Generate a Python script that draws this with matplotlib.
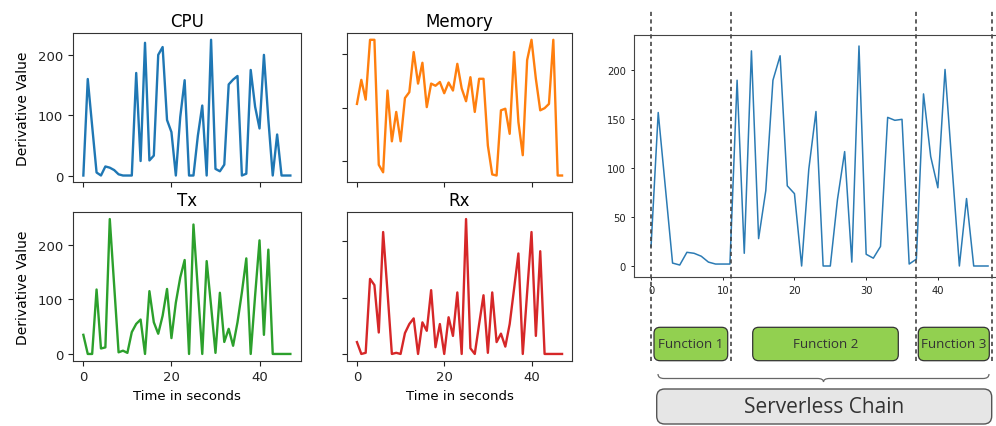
import matplotlib.pyplot as plt
from matplotlib.patches import FancyBboxPatch, PathPatch
from matplotlib.path import Path

# time axis (seconds)
t = list(range(48))

# derivative values per metric
cpu = [0, 160, 82, 5, 0, 15, 13, 9, 2, 0, 0, 0, 170, 24, 220, 25, 33, 200, 213, 92,
       72, 0, 97, 158, 0, 0, 66, 116, 0, 225, 11, 7, 18, 151, 159, 165, 0, 3, 175, 114,
       78, 200, 93, 0, 68, 0, 0, 0]
memory = [107, 152, 115, 227, 227, -7, -21, 132, 37, 92, 37, 118, 129, 204, 145, 184,
          101, 145, 141, 148, 127, 147, 132, 182, 136, 112, 157, 92, 154, 154, 29, -25,
          -27, 95, 98, 51, 204, 73, 11, 189, 227, 154, 95, 99, 107, 227, -27, -27]
tx = [35, 0, 0, 118, 10, 12, 247, 125, 3, 6, 2, 40, 55, 63, 0, 115, 58, 37, 70, 119,
      29, 94, 140, 172, 0, 237, 118, 0, 170, 88, 2, 112, 22, 46, 15, 58, 113, 175, 0, 107,
      208, 35, 191, 0, 0, 0, 0, 0]
rx = [21, 0, 2, 133, 122, 38, 216, 110, 0, 2, 0, 37, 53, 63, 0, 56, 41, 113, 12, 53,
      0, 65, 32, 109, 0, 239, 10, 0, 53, 104, 2, 109, 21, 36, 13, 53, 115, 178, 0, 109,
      216, 32, 182, 0, 0, 0, 0, 0]

# chain trace shown on the right
chain = [20, 157, 80, 3, 1, 14, 13, 10, 4, 2, 2, 2, 190, 13, 220, 28, 77, 190, 215, 82,
         74, 0, 99, 158, 0, 0, 68, 117, 4, 225, 12, 8, 20, 152, 149, 150, 2, 7, 176, 112,
         80, 201, 100, 0, 69, 0, 0, 0]
function_bounds = [0, 11.1, 37, 47.5]
function_names = ["Function 1", "Function 2", "Function 3"]
chain_name = "Serverless Chain"

W, H = 996, 427
fig = plt.figure(figsize=(W / 100, H / 100), dpi=100)


def px_box(left, top, right, bottom):
    return [left / W, 1 - bottom / H, (right - left) / W, (bottom - top) / H]


panels = [
    ("CPU", cpu, "tab:blue", px_box(73, 34, 300.7, 183.3), True, False),
    ("Memory", memory, "tab:orange", px_box(346.7, 34, 572.3, 183.3), False, False),
    ("Tx", tx, "tab:green", px_box(73, 213.3, 300.7, 361.7), True, True),
    ("Rx", rx, "tab:red", px_box(346.7, 213.3, 572.3, 361.7), False, True),
]
for title, vals, col, pos, ylab, xlab in panels:
    ax = fig.add_axes(pos)
    ax.plot(t, vals, color=col, lw=1.7)
    ax.set_title(title, fontsize=12, pad=5)
    ax.set_yticks([0, 100, 200])
    ax.set_xticks([0, 20, 40])
    ax.tick_params(labelsize=9.5, colors="#222")
    ax.tick_params(labelleft=ylab, labelbottom=xlab)
    for s in ax.spines.values():
        s.set_color("#333")
    if ylab:
        ax.set_ylabel("Derivative Value", fontsize=10, labelpad=6)
    if xlab:
        ax.set_xlabel("Time in seconds", fontsize=9.5)

# right panel
axr = fig.add_axes([634.2 / W, 1 - 278 / H, 370.7 / W, 242 / H])
axr.plot(t, chain, color="#2b7bb4", lw=1.1)
axr.set_xticks([0, 10, 20, 30, 40])
axr.set_yticks([0, 50, 100, 150, 200])
axr.tick_params(labelsize=7.2, length=2.5, width=0.7, colors="#222")
for s in axr.spines.values():
    s.set_linewidth(0.8)
    s.set_color("#444")
for b in function_bounds:
    axr.axvline(b, ymin=-0.347, ymax=1.099, clip_on=False, color="#444",
                lw=1.2, linestyle=(0, (2.5, 2)), zorder=5)

# diagram overlay in pixel units
ov = fig.add_axes([0, 0, 1, 1])
ov.set_xlim(0, W)
ov.set_ylim(H, 0)
ov.axis("off")

boxes = [(654, 727.7), (752.7, 898.3), (918.3, 989.3)]
for (x0, x1), name in zip(boxes, function_names):
    ov.add_patch(FancyBboxPatch((x0, 328.3), x1 - x0, 33.4,
                                boxstyle="round,pad=0,rounding_size=6",
                                fc="#92d050", ec="#333", lw=0.9))
    ov.text((x0 + x1) / 2, 345, name, ha="center", va="center",
            fontsize=9.6, family="Open Sans", color="#333")

x0, x1, xm = 658, 989, 823.5
ye, yl, yt = 375, 379.5, 383
verts = [(x0, ye), (x0, yl), (x0 + 6, yl), (xm - 6, yl), (xm, yl), (xm, yt),
         (xm, yl), (xm + 6, yl), (x1 - 6, yl), (x1, yl), (x1, ye)]
codes = [Path.MOVETO, Path.CURVE3, Path.CURVE3, Path.LINETO, Path.CURVE3, Path.CURVE3,
         Path.CURVE3, Path.CURVE3, Path.LINETO, Path.CURVE3, Path.CURVE3]
ov.add_patch(PathPatch(Path(verts, codes), fc="none", ec="#666", lw=0.9))

ov.add_patch(FancyBboxPatch((656.7, 390), 335, 35, boxstyle="round,pad=0,rounding_size=8",
                            fc="#e6e6e6", ec="#555", lw=1.0))
ov.text(824, 408, chain_name, ha="center", va="center", fontsize=15,
        family="Open Sans", color="#333")

fig.savefig("out.png", dpi=100)
